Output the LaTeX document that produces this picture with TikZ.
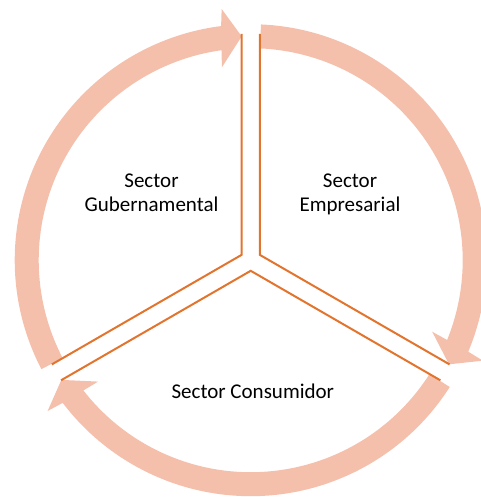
\documentclass[tikz,border=0pt]{standalone}
\usepackage{fontspec}
\setmainfont{Carlito}
\usetikzlibrary{calc}
\definecolor{arrowfill}{RGB}{244,192,172}
\definecolor{lineor}{RGB}{226,116,46}
\begin{document}
\begin{tikzpicture}[x=1pt,y=1pt,
  cyclearrow/.style={fill=arrowfill,draw=none},
  sectorline/.style={draw=lineor,line width=2pt},
  sectorlabel/.style={font=\fontsize{21}{23.7}\selectfont,align=center,inner sep=0pt,text=black}]
\useasboundingbox (0,0) rectangle (480,-497);
\begin{scope}[shift={(250.7,-260.2)}]
  \foreach \r in {0,-120,-240}{
    \begin{scope}[rotate=\r]
      \path[cyclearrow] (207.5:236) arc[start angle=207.5,end angle=97.2,radius=236]
        -- (96.6:253) -- (92.3:224) -- (98.5:195) -- (97.9:212)
        arc[start angle=97.9,end angle=207.5,radius=212] -- cycle;
    \end{scope}
  }
  \coordinate (A1) at (150:10.6);
  \coordinate (A2) at (30:10.6);
  \coordinate (A3) at (270:10.6);
  \coordinate (A1t) at ($(A1)+(90:221)$);
  \coordinate (A1l) at ($(A1)+(210:219)$);
  \coordinate (A2t) at ($(A2)+(90:221)$);
  \coordinate (A2r) at ($(A2)+(-30:219)$);
  \coordinate (A3l) at ($(A3)+(210:219)$);
  \coordinate (A3r) at ($(A3)+(-30:219)$);
  \draw[sectorline] (A1t) -- (A1) -- (A1l);
  \draw[sectorline] (A2t) -- (A2) -- (A2r);
  \draw[sectorline] (A3l) -- (A3) -- (A3r);
\end{scope}
\node[sectorlabel,anchor=base] (gub) at (151.5,-211) {Sector\\Gubernamental};
\node[sectorlabel,anchor=base] (emp) at (350,-211) {Sector\\Empresarial};
\node[sectorlabel,anchor=base] (con) at (252.8,-398.3) {Sector Consumidor};
\end{tikzpicture}
\end{document}
